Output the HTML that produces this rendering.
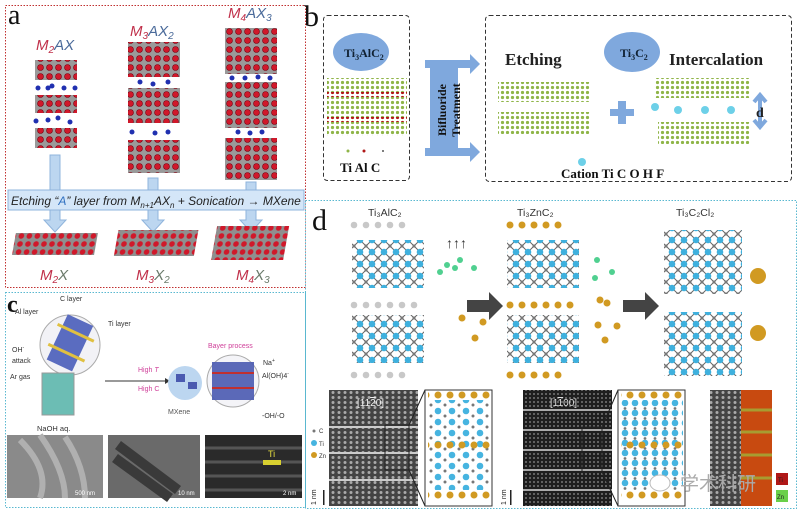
<!DOCTYPE html>
<html><head><meta charset="utf-8"><style>
html,body{margin:0;padding:0;background:#fff;width:800px;height:516px;overflow:hidden}
svg{display:block}
text{font-family:"Liberation Sans","Noto Sans CJK SC",sans-serif}
.sf{font-family:"Liberation Serif",serif}
</style></head><body>
<svg width="800" height="516" viewBox="0 0 800 516" xmlns="http://www.w3.org/2000/svg">
<defs>
<pattern id="redd" width="9" height="9" patternUnits="userSpaceOnUse"><rect width="9" height="9" fill="#9a9a9a"/><circle cx="4.5" cy="4.5" r="3" fill="#d0182a" stroke="#7a0010" stroke-width=".6"/></pattern>
<pattern id="slab" width="8" height="8" patternUnits="userSpaceOnUse"><rect width="8" height="8" fill="#8f8f8f"/><circle cx="4" cy="4" r="2.8" fill="#d0182a"/></pattern>
<pattern id="grn" width="5" height="5" patternUnits="userSpaceOnUse"><circle cx="2.5" cy="2.5" r="1.6" fill="#8fb548"/></pattern>
<pattern id="redr" width="5" height="5" patternUnits="userSpaceOnUse"><circle cx="2.5" cy="2.5" r="1.6" fill="#b01818"/></pattern>
<pattern id="lat" width="12" height="12" patternUnits="userSpaceOnUse"><path d="M0 0L12 12M12 0L0 12" stroke="#666" stroke-width="1"/><circle cx="0" cy="0" r="3.3" fill="#3fb0dd"/><circle cx="12" cy="0" r="3.3" fill="#3fb0dd"/><circle cx="0" cy="12" r="3.3" fill="#3fb0dd"/><circle cx="12" cy="12" r="3.3" fill="#3fb0dd"/><circle cx="6" cy="6" r="1.6" fill="#777"/></pattern>
<pattern id="grey" width="12" height="10" patternUnits="userSpaceOnUse"><circle cx="6" cy="5" r="3.3" fill="#c8c8c8"/></pattern>
<pattern id="gold" width="12" height="10" patternUnits="userSpaceOnUse"><circle cx="6" cy="5" r="3.5" fill="#d19a22"/></pattern>
<pattern id="stem" width="6" height="5" patternUnits="userSpaceOnUse"><rect width="6" height="5" fill="#444"/><circle cx="3" cy="2.5" r="1.5" fill="#aaa"/></pattern>
<pattern id="stem2" width="4" height="4" patternUnits="userSpaceOnUse"><rect width="4" height="4" fill="#1e1e1e"/><circle cx="2" cy="2" r="1" fill="#777"/></pattern>
<pattern id="ins1" width="14" height="11" patternUnits="userSpaceOnUse"><circle cx="4" cy="4" r="3.3" fill="#46b4e0"/><circle cx="11" cy="9" r="1.5" fill="#777"/></pattern>
<pattern id="ins2" width="10" height="10" patternUnits="userSpaceOnUse"><circle cx="5" cy="3" r="3.3" fill="#46b4e0"/><circle cx="5" cy="8.5" r="1.4" fill="#777"/></pattern>
</defs>

<!-- Panel a -->
<rect x="5.5" y="5.5" width="300" height="282" fill="none" stroke="#c03030" stroke-dasharray="1.5,1.5"/>
<text x="8" y="24" class="sf" font-size="28" fill="#111">a</text>
<text x="36" y="50" font-size="15" font-style="italic" fill="#c0304a">M<tspan font-size="10" dy="3">2</tspan><tspan dy="-3" fill="#4a6a9a">AX</tspan></text>
<text x="130" y="36" font-size="15" font-style="italic" fill="#c0304a">M<tspan font-size="10" dy="3">3</tspan><tspan dy="-3" fill="#4a6a9a">AX</tspan><tspan font-size="10" dy="3" fill="#4a6a9a">2</tspan></text>
<text x="228" y="18" font-size="15" font-style="italic" fill="#c0304a">M<tspan font-size="10" dy="3">4</tspan><tspan dy="-3" fill="#4a6a9a">AX</tspan><tspan font-size="10" dy="3" fill="#4a6a9a">3</tspan></text>
<g>
<rect x="35" y="60" width="42" height="20" fill="url(#redd)"/>
<rect x="35" y="95" width="42" height="18" fill="url(#redd)"/>
<rect x="35" y="128" width="42" height="20" fill="url(#redd)"/>
<g fill="#2030b0"><circle cx="38" cy="88" r="2.5"/><circle cx="48" cy="88" r="2.5"/><circle cx="52" cy="86" r="2.5"/><circle cx="64" cy="88" r="2.5"/><circle cx="75" cy="88" r="2.5"/><circle cx="36" cy="121" r="2.5"/><circle cx="48" cy="120" r="2.5"/><circle cx="58" cy="118" r="2.5"/><circle cx="70" cy="122" r="2.5"/></g>
<rect x="128" y="42" width="52" height="35" fill="url(#redd)"/>
<rect x="128" y="88" width="52" height="35" fill="url(#redd)"/>
<rect x="128" y="140" width="52" height="33" fill="url(#redd)"/>
<g fill="#2030b0"><circle cx="140" cy="82" r="2.5"/><circle cx="153" cy="84" r="2.5"/><circle cx="168" cy="82" r="2.5"/><circle cx="132" cy="132" r="2.5"/><circle cx="155" cy="133" r="2.5"/><circle cx="168" cy="132" r="2.5"/></g>
<rect x="225" y="28" width="52" height="46" fill="url(#redd)"/>
<rect x="225" y="82" width="52" height="46" fill="url(#redd)"/>
<rect x="225" y="138" width="52" height="42" fill="url(#redd)"/>
<g fill="#2030b0"><circle cx="232" cy="78" r="2.5"/><circle cx="245" cy="78" r="2.5"/><circle cx="258" cy="77" r="2.5"/><circle cx="270" cy="78" r="2.5"/><circle cx="238" cy="132" r="2.5"/><circle cx="250" cy="133" r="2.5"/><circle cx="262" cy="132" r="2.5"/></g>
</g>
<g fill="#bcd6f0" stroke="#8fb4dc">
<path d="M50 155h10v65h6l-11 12l-11-12h6z"/>
<path d="M148 178h10v42h6l-11 12l-11-12h6z"/>
<path d="M246 182h10v38h6l-11 12l-11-12h6z"/>
</g>
<rect x="8" y="190" width="296" height="20" fill="#d4e6f8" stroke="#8fb4dc"/>
<text x="11" y="205" font-size="12" font-style="italic" fill="#222">Etching “<tspan fill="#3070c0">A</tspan>” layer from M<tspan font-size="8" dy="3">n+1</tspan><tspan dy="-3">AX</tspan><tspan font-size="8" dy="3">n</tspan><tspan dy="-3"> + Sonication → MXene</tspan></text>
<rect x="14" y="233" width="82" height="22" fill="url(#slab)" transform="skewX(-10) translate(43 0)"/>
<rect x="116" y="230" width="80" height="26" fill="url(#slab)" transform="skewX(-10) translate(43 0)"/>
<rect x="214" y="226" width="72" height="34" fill="url(#slab)" transform="skewX(-10) translate(43 0)"/>
<text x="40" y="280" font-size="15" font-style="italic" fill="#c0304a">M<tspan font-size="10" dy="3">2</tspan><tspan dy="-3" fill="#6a7a6a">X</tspan></text>
<text x="136" y="280" font-size="15" font-style="italic" fill="#c0304a">M<tspan font-size="10" dy="3">3</tspan><tspan dy="-3" fill="#6a7a6a">X</tspan><tspan font-size="10" dy="3" fill="#6a7a6a">2</tspan></text>
<text x="236" y="280" font-size="15" font-style="italic" fill="#c0304a">M<tspan font-size="10" dy="3">4</tspan><tspan dy="-3" fill="#6a7a6a">X</tspan><tspan font-size="10" dy="3" fill="#6a7a6a">3</tspan></text>

<!-- Panel b -->
<text x="304" y="26" class="sf" font-size="30" fill="#111">b</text>
<rect x="323.5" y="15.5" width="86" height="165" rx="4" fill="none" stroke="#333" stroke-dasharray="4,2.5"/>
<ellipse cx="361" cy="52" rx="28" ry="19" fill="#7fa8dd"/>
<text x="344" y="57" class="sf" font-size="12" font-weight="bold" fill="#123">Ti<tspan font-size="8" dy="3">3</tspan><tspan dy="-3">AlC</tspan><tspan font-size="8" dy="3">2</tspan></text>
<rect x="327" y="78" width="80" height="14" fill="url(#grn)"/>
<rect x="327" y="92" width="80" height="5" fill="url(#redr)"/>
<rect x="327" y="97" width="80" height="20" fill="url(#grn)"/>
<rect x="327" y="117" width="80" height="5" fill="url(#redr)"/>
<rect x="327" y="122" width="80" height="14" fill="url(#grn)"/>
<circle cx="348" cy="151" r="1.5" fill="#8fb548"/><circle cx="364" cy="151" r="1.5" fill="#b01818"/><circle cx="383" cy="151" r="1" fill="#555"/>
<text x="340" y="172" class="sf" font-size="13" font-weight="bold" fill="#111">Ti Al  C</text>
<g fill="#7fa8dd">
<rect x="430" y="65" width="28" height="90"/>
<path d="M425 60h45v-6l10 10l-10 10v-6h-45z"/>
<path d="M425 148h45v-6l10 10l-10 10v-6h-45z"/>
</g>
<text transform="translate(450 110) rotate(-90)" text-anchor="middle" class="sf" font-size="12" font-weight="bold" fill="#111"><tspan x="0" dy="-4">Bifluoride</tspan><tspan x="0" dy="14">Treatment</tspan></text>
<rect x="485.5" y="15.5" width="306" height="166" rx="4" fill="none" stroke="#333" stroke-dasharray="4,2.5"/>
<text x="505" y="65" class="sf" font-size="17" font-weight="bold" fill="#222">Etching</text>
<ellipse cx="632" cy="52" rx="28" ry="20" fill="#7fa8dd"/>
<text x="620" y="57" class="sf" font-size="12" font-weight="bold" fill="#123">Ti<tspan font-size="8" dy="3">3</tspan><tspan dy="-3">C</tspan><tspan font-size="8" dy="3">2</tspan></text>
<text x="669" y="65" class="sf" font-size="17" font-weight="bold" fill="#222">Intercalation</text>
<rect x="498" y="82" width="92" height="20" fill="url(#grn)"/>
<rect x="498" y="112" width="92" height="22" fill="url(#grn)"/>
<rect x="610" y="109" width="24" height="7" fill="#7fa8dd"/><rect x="618" y="101" width="8" height="23" fill="#7fa8dd"/>
<rect x="655" y="78" width="95" height="20" fill="url(#grn)"/>
<rect x="658" y="122" width="92" height="22" fill="url(#grn)"/>
<g fill="#6dd0e8"><circle cx="655" cy="107" r="4"/><circle cx="678" cy="110" r="4"/><circle cx="705" cy="110" r="4"/><circle cx="731" cy="110" r="4"/></g>
<path d="M760 96v30M754 102l6-7l6 7M754 120l6 7l6-7" stroke="#7fa8dd" stroke-width="4" fill="none"/>
<text x="756" y="117" class="sf" font-size="14" font-weight="bold" fill="#222">d</text>
<circle cx="582" cy="162" r="4" fill="#6dd0e8"/>
<text x="561" y="178" class="sf" font-size="13" font-weight="bold" fill="#111">Cation  Ti  C  O H F</text>

<!-- Panel c -->
<rect x="5.5" y="292.5" width="300" height="215" fill="none" stroke="#5ab8d0" stroke-dasharray="1.5,1.5"/>
<text x="7" y="312" class="sf" font-size="24" font-weight="bold" fill="#111">c</text>
<circle cx="70" cy="345" r="30" fill="#f2f2f6" stroke="#aaa"/>
<rect x="55" y="318" width="28" height="50" fill="#5a6cc0" transform="rotate(25 70 345)"/>
<rect x="50" y="330" width="40" height="3" fill="#e0c040" transform="rotate(25 70 345)"/>
<rect x="50" y="352" width="40" height="3" fill="#e0c040" transform="rotate(25 70 345)"/>
<text x="60" y="301" font-size="7" fill="#333">C layer</text>
<text x="15" y="314" font-size="7" fill="#333">Al layer</text>
<text x="108" y="326" font-size="7" fill="#333">Ti layer</text>
<text x="12" y="352" font-size="7" fill="#333">OH<tspan font-size="5" dy="-3">-</tspan></text>
<text x="12" y="363" font-size="7" fill="#333">attack</text>
<text x="10" y="379" font-size="7" fill="#333">Ar gas</text>
<rect x="42" y="373" width="32" height="42" fill="#6cbdb4" stroke="#999"/>
<text x="37" y="431" font-size="7.5" fill="#333">NaOH aq.</text>
<text x="138" y="372" font-size="7" fill="#d0409a">High <tspan font-style="italic">T</tspan></text>
<text x="138" y="391" font-size="7" fill="#d0409a">High C</text>
<path d="M105 381h60" stroke="#333"/><path d="M165 378l5 3l-5 3z" fill="#333"/>
<circle cx="185" cy="383" r="17" fill="#bcd6f0"/>
<rect x="176" y="374" width="9" height="8" fill="#4a5ab0"/><rect x="188" y="382" width="9" height="7" fill="#4a5ab0"/>
<text x="168" y="414" font-size="7" fill="#555">MXene</text>
<text x="208" y="348" font-size="7" fill="#d0409a">Bayer process</text>
<circle cx="233" cy="381" r="26" fill="#f4f4f8" stroke="#aaa"/>
<rect x="212" y="362" width="42" height="38" fill="#4a5ab0" opacity=".9"/>
<line x1="212" y1="373" x2="254" y2="373" stroke="#c03030" stroke-width="2"/><line x1="212" y1="388" x2="254" y2="388" stroke="#c03030" stroke-width="2"/>
<text x="263" y="365" font-size="7" fill="#333">Na<tspan font-size="5" dy="-3">+</tspan></text>
<text x="262" y="378" font-size="7" fill="#333">Al(OH)4<tspan font-size="5" dy="-3">-</tspan></text>
<text x="262" y="418" font-size="7" fill="#333">-OH/-O</text>
<rect x="7" y="435" width="96" height="63" fill="#8a8a8a"/>
<path d="M20 440q30 30 20 58M40 435q25 35 25 63M65 437q20 30 20 61" stroke="#b0b0b0" stroke-width="6" fill="none"/>
<rect x="108" y="435" width="92" height="63" fill="#6a6a6a"/>
<path d="M118 445l60 45M115 458l55 40" stroke="#3a3a3a" stroke-width="10"/>
<rect x="205" y="435" width="97" height="63" fill="#2a2a2a"/>
<path d="M205 448h97M205 462h97M205 476h97M205 490h97" stroke="#555" stroke-width="3"/>
<text x="268" y="457" font-size="9" fill="#e8e040">Ti</text>
<rect x="263" y="460" width="18" height="5" fill="#d8d030"/>
<text x="75" y="495" font-size="6" fill="#fff">500 nm</text>
<text x="178" y="495" font-size="6" fill="#fff">10 nm</text>
<text x="283" y="495" font-size="6" fill="#fff">2 nm</text>

<!-- Panel d -->
<rect x="305.5" y="200.5" width="491" height="308" fill="none" stroke="#5ab8d0" stroke-dasharray="1.5,1.5"/>
<text x="312" y="230" class="sf" font-size="30" fill="#111">d</text>
<text x="368" y="216" font-size="10.5" fill="#333">Ti₃AlC₂</text>
<text x="517" y="216" font-size="10.5" fill="#333">Ti₃ZnC₂</text>
<text x="676" y="216" font-size="10.5" fill="#333">Ti₃C₂Cl₂</text>
<rect x="348" y="220" width="60" height="10" fill="url(#grey)"/>
<rect x="352" y="240" width="72" height="48" fill="url(#lat)"/>
<rect x="348" y="300" width="72" height="10" fill="url(#grey)"/>
<rect x="352" y="315" width="72" height="48" fill="url(#lat)"/>
<rect x="348" y="370" width="60" height="10" fill="url(#grey)"/>
<g fill="#50d090"><circle cx="440" cy="272" r="3"/><circle cx="447" cy="265" r="3"/><circle cx="455" cy="268" r="3"/><circle cx="460" cy="260" r="3"/><circle cx="474" cy="268" r="3"/></g>
<g fill="#d19a22"><circle cx="462" cy="318" r="3.5"/><circle cx="483" cy="322" r="3.5"/><circle cx="475" cy="338" r="3.5"/></g>
<text x="446" y="248" font-size="14" font-weight="bold" fill="#333">↑↑↑</text>
<path d="M467 300h22v-8l14 14l-14 14v-8h-22z" fill="#444"/>
<rect x="502" y="220" width="60" height="10" fill="url(#gold)"/>
<rect x="507" y="240" width="72" height="48" fill="url(#lat)"/>
<rect x="502" y="300" width="72" height="10" fill="url(#gold)"/>
<rect x="507" y="315" width="72" height="48" fill="url(#lat)"/>
<rect x="502" y="370" width="60" height="10" fill="url(#gold)"/>
<g fill="#d19a22"><circle cx="600" cy="300" r="3.5"/><circle cx="607" cy="303" r="3.5"/><circle cx="598" cy="325" r="3.5"/><circle cx="617" cy="326" r="3.5"/><circle cx="605" cy="340" r="3.5"/></g>
<g fill="#50d090"><circle cx="597" cy="260" r="3"/><circle cx="612" cy="272" r="3"/><circle cx="595" cy="278" r="3"/></g>
<path d="M623 300h22v-8l14 14l-14 14v-8h-22z" fill="#444"/>
<rect x="664" y="230" width="78" height="64" fill="url(#lat)"/>
<rect x="664" y="312" width="78" height="64" fill="url(#lat)"/>
<circle cx="758" cy="276" r="8" fill="#d19a22"/><circle cx="758" cy="333" r="8" fill="#d19a22"/>
<g font-size="6" fill="#333"><circle cx="314" cy="431" r="1.5" fill="#777"/><text x="319" y="433">C</text><circle cx="314" cy="443" r="3" fill="#46b4e0"/><text x="319" y="446">Ti</text><circle cx="314" cy="455" r="3" fill="#d19a22"/><text x="319" y="458">Zn</text></g>
<rect x="323" y="490" width="1.5" height="15" fill="#222"/>
<text transform="translate(316 505) rotate(-90)" font-size="7" fill="#222">1 nm</text>
<rect x="329" y="390" width="89" height="116" fill="url(#stem)"/>
<g stroke="#ccc" stroke-width="2"><path d="M329 427h89M329 453h89M329 480h89"/></g>
<text x="357" y="406" font-size="10" fill="#eee">[11<tspan text-decoration="overline">2</tspan>0]</text>
<rect x="385" y="425" width="24" height="45" fill="none" stroke="#222"/>
<path d="M409 425l16-35M409 470l16 36" stroke="#222" fill="none"/>
<rect x="425" y="390" width="67" height="116" fill="#fff" stroke="#333"/>
<rect x="428" y="400" width="62" height="90" fill="url(#ins1)"/>
<rect x="428" y="390" width="62" height="10" fill="url(#gold)"/>
<rect x="428" y="440" width="62" height="10" fill="url(#gold)"/>
<rect x="428" y="490" width="62" height="10" fill="url(#gold)"/>
<rect x="510" y="490" width="1.5" height="15" fill="#222"/>
<text transform="translate(506 505) rotate(-90)" font-size="7" fill="#222">1 nm</text>
<rect x="523" y="390" width="89" height="116" fill="url(#stem2)"/>
<g stroke="#aaa" stroke-width="2"><path d="M523 410h89M523 430h89M523 450h89M523 470h89M523 490h89"/></g>
<text x="550" y="406" font-size="10" fill="#ddd">[1<tspan text-decoration="overline">1</tspan>00]</text>
<rect x="582" y="427" width="20" height="45" fill="none" stroke="#222"/>
<path d="M602 427l16-37M602 472l16 34" stroke="#222" fill="none"/>
<rect x="618" y="390" width="67" height="116" fill="#fff" stroke="#333"/>
<rect x="621" y="400" width="62" height="90" fill="url(#ins2)"/>
<rect x="621" y="390" width="62" height="10" fill="url(#gold)"/>
<rect x="621" y="440" width="62" height="10" fill="url(#gold)"/>
<rect x="621" y="490" width="62" height="10" fill="url(#gold)"/>
<rect x="710" y="390" width="31" height="116" fill="url(#stem)"/>
<rect x="741" y="390" width="31" height="116" fill="#c84a10"/>
<g stroke="#9ac040" stroke-width="3" opacity=".7"><path d="M741 410h31M741 432h31M741 455h31M741 478h31"/></g>
<rect x="776" y="473" width="12" height="12" fill="#b01818"/><text x="778" y="482" font-size="6" fill="#222">Ti</text>
<rect x="776" y="490" width="12" height="12" fill="#6ad04a"/><text x="777" y="499" font-size="6" fill="#222">Zn</text>
<ellipse cx="660" cy="483" rx="10" ry="8" fill="#fff" stroke="#bbb"/>
<text x="680" y="490" font-size="19" fill="#aaa">学术科研</text>
</svg>
</body></html>
